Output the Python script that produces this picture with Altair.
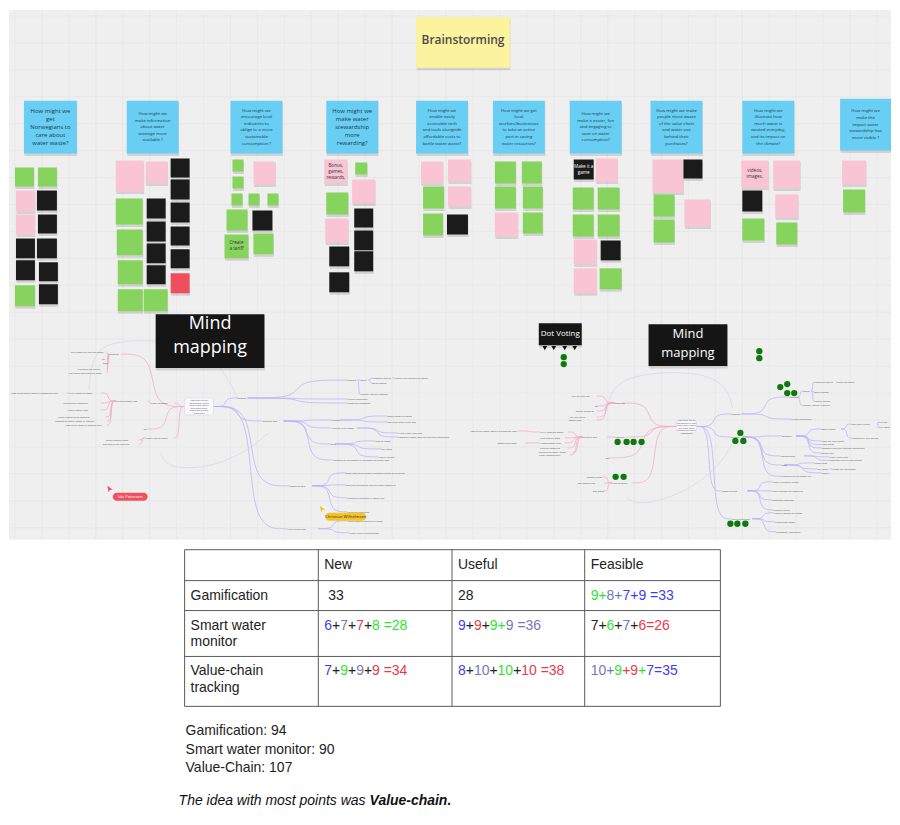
import altair as alt
import pandas as pd

# =====================================================================
# DATA  (board coordinates, image pixels)
# =====================================================================

# ---- brainstorming board ------------------------------------------------
title_text = "Brainstorming"
title_note = (416, 15, 510, 66)

question_lines = [
    ["How might we", "get", "Norwegians to", "care about", "water waste?"],
    ["How might we", "make information", "about water", "wastage more", "available ?"],
    ["How might we", "encourage local", "industries to", "oblige to a more", "sustainable", "consumption ?"],
    ["How might we", "make water", "stewardship", "more", "rewarding?"],
    ["How might we", "enable easily", "accessible tech", "and tools alongside", "affordable costs to", "battle water waste?"],
    ["How might we get", "local", "workers/businesses", "to take an active", "part in saving", "water resources?"],
    ["How might we", "make it easier, fun", "and engaging to", "save on water", "consumption?"],
    ["How might we make", "people more aware", "of the value chain", "and water use", "behind their", "purchases?"],
    ["How might we", "illustrate how", "much water is", "wasted everyday,", "and its impact on", "the climate?"],
    ["How might we", "make the", "impact water", "stewardship has", "more visible ?"],
]
question_left = [23, 126, 230, 326, 416, 493, 570, 651, 743, 841]
question_right = [76, 178, 282, 378, 468, 545, 622, 703, 795, 892]
question_top = [99, 99, 99, 99, 99, 99, 99, 99, 99, 97]
question_bottom = [152, 152, 152, 152, 152, 152, 152, 152, 152, 149]
question_style = ["large", "small", "small", "large", "small", "small", "small", "small", "small", "small"]

# sticky notes under each question: (left, top, right, bottom, colour)
notes_col1 = [(14, 166, 33, 185, "green"), (37, 166, 56, 185, "green"), (15, 189, 34, 210, "pink"),
              (36, 189, 56, 209, "black"), (15, 213, 34, 233, "pink"), (37, 213, 56, 232, "black"),
              (15, 237, 34, 257, "black"), (36, 237, 56, 257, "black"), (15, 259, 34, 279, "black"),
              (38, 261, 57, 280, "black"), (14, 284, 34, 305, "green"), (38, 283, 57, 303, "black")]
notes_col2 = [(115, 159, 143, 190, "pink"), (145, 160, 167, 182, "pink"), (170, 157, 189, 176, "black"),
              (170, 178, 189, 198, "black"), (115, 197, 142, 223, "green"), (146, 197, 165, 217, "black"),
              (170, 201, 189, 221, "black"), (116, 228, 142, 254, "green"), (146, 220, 165, 240, "black"),
              (170, 225, 189, 244, "black"), (146, 242, 165, 262, "black"), (170, 248, 189, 267, "black"),
              (117, 259, 142, 283, "green"), (146, 264, 165, 283, "black"), (170, 272, 189, 292, "red"),
              (117, 288, 142, 310, "green"), (143, 288, 167, 310, "green")]
notes_col3 = [(232, 158, 243, 170, "green"), (253, 160, 275, 183, "pink"), (232, 175, 243, 187, "green"),
              (231, 192, 242, 204, "green"), (248, 192, 259, 204, "green"), (267, 192, 278, 204, "green"),
              (226, 208, 247, 229, "green"), (252, 209, 272, 229, "black"), (224, 233, 248, 257, "green"),
              (253, 232, 273, 253, "green")]
notes_col4 = [(324, 158, 347, 182, "pink"), (355, 161, 367, 173, "green"), (352, 178, 375, 202, "pink"),
              (326, 191, 348, 213, "green"), (354, 207, 373, 226, "black"), (325, 217, 348, 241, "pink"),
              (354, 229, 373, 249, "black"), (329, 245, 349, 265, "black"), (354, 250, 373, 270, "black"),
              (329, 271, 349, 291, "black")]
notes_col5 = [(421, 160, 443, 182, "pink"), (448, 158, 471, 180, "pink"), (423, 185, 444, 207, "green"),
              (448, 185, 471, 205, "pink"), (423, 212, 443, 234, "green"), (447, 213, 468, 233, "black")]
notes_col6 = [(495, 160, 516, 182, "green"), (522, 160, 542, 182, "green"), (495, 185, 516, 207, "green"),
              (523, 185, 543, 207, "green"), (495, 211, 518, 235, "pink"), (523, 211, 543, 232, "green")]
notes_col7 = [(574, 158, 594, 178, "black"), (596, 157, 618, 180, "pink"), (573, 186, 594, 208, "green"),
              (598, 186, 620, 208, "green"), (573, 213, 594, 235, "green"), (598, 213, 620, 235, "green"),
              (574, 238, 597, 263, "pink"), (601, 239, 621, 259, "black"), (574, 267, 597, 292, "pink"),
              (600, 267, 622, 288, "green")]
notes_col8 = [(653, 158, 684, 191, "pink"), (684, 158, 703, 177, "black"), (654, 193, 675, 215, "green"),
              (685, 198, 711, 225, "pink"), (654, 218, 675, 241, "green")]
notes_col9 = [(742, 159, 769, 186, "pink"), (774, 159, 801, 187, "pink"), (743, 189, 763, 210, "black"),
              (776, 193, 799, 216, "pink"), (743, 217, 765, 239, "green"), (777, 221, 798, 243, "green")]
notes_col10 = [(843, 159, 867, 183, "pink"), (844, 188, 866, 211, "green")]
note_columns = [notes_col1, notes_col2, notes_col3, notes_col4, notes_col5,
                notes_col6, notes_col7, notes_col8, notes_col9, notes_col10]

# readable words on some notes: (column index, note index, lines)
note_words = [(6, 0, ["Make it a", "game"]),
              (8, 0, ["videos,", "images,"]),
              (3, 0, ["Bonus,", "games,", "rewards,"]),
              (2, 8, ["Create", "a tariff"])]

# ---- mind-map boards ----------------------------------------------------
heading_boxes = [("Mind\nmapping", 155, 313, 264, 367, "big"),
                 ("Mind\nmapping", 649, 323, 728, 365, "mid"),
                 ("Dot Voting", 539, 322, 582, 344, "small")]
dot_voting_pins_x = [545, 554, 565, 575]
dot_voting_pins_y = [347, 347, 347, 347]

vote_dots_x = [564, 564, 760, 760, 781, 788, 788, 795, 618, 627, 634, 642, 741, 736, 744, 616, 624, 731, 738, 746]
vote_dots_y = [356, 363, 350, 357, 386, 383, 392, 392, 441, 441, 441, 441, 432, 440, 440, 476, 476, 523, 523, 523]

center_text = "How might we get\nNorwegians to care\nabout water waste\nand make water\nstewardship more\nrewarding?"
center_nodes = {
    "A0": (184, 397, 213, 414, center_text),
    "C0": (677, 419, 697, 432, center_text),
}

# (id, parent, left, right, y, label)
left_map_nodes = [
    ("A1", "A0", 108, 120, 353, "Rewards"),
    ("A1a", "A1", 70, 105, 351, "Pay people to use less water"),
    ("A1b", "A1", 101, 106, 358, "To"),
    ("A1c", "A1", 102, 108, 362, "data"),
    ("A1d", "A1", 77, 106, 368, "Discount for saving"),
    ("A1e", "A1", 68, 106, 372, "Tax those who use the most"),
    ("A2", "A0", 150, 173, 402, "Water wastage"),
    ("A2a", "A2", 115, 147, 400, "Reliable water info"),
    ("A2a1", "A2a", 68, 100, 392, "WWF: facts on water"),
    ("A2a1x", "A2a1", 10, 66, 392, "How much water does a Norwegian use?"),
    ("A2a2", "A2a", 62, 100, 402, "Municipality statistics"),
    ("A2a3", "A2a", 66, 100, 409, "Hidden water cost"),
    ("A2a4", "A2a", 57, 105, 416, "Water footprint of products"),
    ("A2a5", "A2a", 54, 106, 420, "Reports on water waste in Norway"),
    ("A2a6", "A2a", 64, 106, 424, "How much water is wasted daily"),
    ("A3", "A0", 143, 147, 428, "tbc"),
    ("A4", "A0", 145, 173, 437, "Water use at home"),
    ("A4a", "A4", 105, 138, 439, "Smart shower head"),
    ("A4b", "A4", 102, 138, 443, "Tap that turns itself off"),
    ("B1", "A0", 237, 247, 397, "Gaming"),
    ("B1a", "B1", 347, 357, 379, "Contest"),
    ("B1a1", "B1a", 360, 368, 379, "Social"),
    ("B1a1a", "B1a1", 372, 392, 377, "Compare scores"),
    ("B1a1a1", "B1a1a", 395, 435, 377, "Share your savings on social"),
    ("B1a1b", "B1a1", 372, 395, 382, "Earn badges"),
    ("B1a2", "B1a", 360, 393, 393, "Monthly saving rewards"),
    ("B1b", "B1", 347, 370, 398, "Friend challenges"),
    ("B1c", "B1", 347, 378, 402, "Points for discounts"),
    ("B2", "A0", 262, 283, 420, "Tracking app"),
    ("B2a", "B2", 332, 340, 419, "Sensor"),
    ("B2a1", "B2a", 387, 413, 415, "Smart meter at home"),
    ("B2a2", "B2a", 387, 423, 421, "Real time data in the app"),
    ("B2b", "B2", 330, 357, 427, "Alerts on high usage"),
    ("B2b1", "B2b", 398, 425, 432, "Warn if tap runs long"),
    ("B2b2", "B2b", 398, 455, 436, "Compare usage with the average household"),
    ("B2c", "B2", 330, 335, 443, "Data"),
    ("B2c1", "B2c", 375, 397, 440, "Map of usage"),
    ("B2c2", "B2c", 381, 395, 448, "Per room"),
    ("B2c3", "B2c", 378, 398, 456, "Weekly report"),
    ("B2d", "B2", 333, 402, 459, "Connect to the power bill to show the water cost"),
    ("B3", "A0", 289, 312, 485, "Footprint app"),
    ("B3a", "B3", 345, 412, 472, "Show how much water a product needs to be made"),
    ("B3b", "B3", 345, 413, 484, "Scan the barcode to see the water footprint"),
    ("B3c", "B3", 347, 395, 497, "Compare products by water use"),
    ("B3d", "B3", 347, 382, 511, "Labels on products"),
    ("B4", "A0", 287, 318, 528, "Value chain app"),
    ("B4a", "B4", 348, 390, 520, "Track where clothes are made"),
    ("B4b", "B4", 349, 381, 532, "Water used in production"),
]

right_map_nodes = [
    ("C1", "C0", 615, 622, 402, "Rewards"),
    ("C1a", "C1", 572, 597, 395, "Pay for less use"),
    ("C1b", "C1", 595, 597, 405, "To"),
    ("C1c", "C1", 576, 597, 410, "Saving discount"),
    ("C1d", "C1", 570, 597, 416, "Tax big users"),
    ("C1e", "C1", 569, 597, 419, "Lower fees"),
    ("C2", "C0", 615, 627, 436, "Wastage"),
    ("C2a", "C2", 583, 607, 436, "Reliable info"),
    ("C2a1", "C2a", 540, 568, 431, "WWF: facts on water"),
    ("C2a1x", "C2a1", 470, 518, 430, "How much water does a Norwegian use?"),
    ("C2a2", "C2a", 540, 565, 437, "Municipality stats"),
    ("C2a3", "C2a", 540, 565, 442, "Hidden water cost"),
    ("C2a3x", "C2a3", 497, 525, 442, "Footprint of food"),
    ("C2a4", "C2a", 540, 568, 447, "Product footprint"),
    ("C2a5", "C2a", 539, 573, 451, "Reports on water waste"),
    ("C2a6", "C2a", 539, 570, 454, "Water wasted daily"),
    ("C3", "C0", 606, 609, 457, "tbc"),
    ("C4", "C0", 613, 633, 482, "Use at home"),
    ("C4a", "C4", 587, 603, 476, "Shower head"),
    ("C4b", "C4", 578, 605, 482, "Self-closing tap"),
    ("C4c", "C4", 593, 604, 490, "Eco mode"),
    ("D1", "C0", 732, 742, 413, "Gaming"),
    ("D1a", "D1", 790, 798, 396, "Contest"),
    ("D1a1", "D1a", 804, 812, 390, "Social"),
    ("D1a1a", "D1a1", 815, 837, 381, "Compare scores"),
    ("D1a1a1", "D1a1a", 838, 862, 381, "Share on social"),
    ("D1a1b", "D1a1", 815, 833, 391, "Earn badges"),
    ("D1a1c", "D1a1", 815, 835, 400, "Levels, points"),
    ("D1a2", "D1a", 803, 838, 404, "Monthly saving rewards"),
    ("D1b", "D1", 792, 815, 418, "Friend challenges"),
    ("D2", "C0", 732, 743, 436, "Tracker"),
    ("D2a", "D2", 783, 797, 435, "Sensors"),
    ("D2a1", "D2a", 822, 842, 428, "Smart meter"),
    ("D2a1a", "D2a1", 852, 878, 423, "Real time in app"),
    ("D2a1a1", "D2a1a", 880, 890, 421, "Per tap"),
    ("D2a1a2", "D2a1a", 880, 892, 426, "Per room"),
    ("D2a1b", "D2a1", 853, 890, 437, "Installed by the council"),
    ("D2a2", "D2a", 822, 848, 440, "Warn on high usage"),
    ("D2a3", "D2a", 822, 837, 443.5, "Push alerts"),
    ("D2a4", "D2a", 822, 870, 447, "Compare with the average household"),
    ("D2a5", "D2a", 822, 842, 452, "Saving tips"),
    ("D2b", "D2", 781, 805, 455, "Notifications"),
    ("D2b1", "D2b", 830, 858, 456, "Warn if tap runs"),
    ("D2b2", "D2b", 830, 873, 459.5, "Reminder to turn off shower"),
    ("D2c", "D2", 782, 785, 464, "Data"),
    ("D2c1", "D2c", 815, 833, 462, "Usage map"),
    ("D2c2", "D2c", 818, 830, 468, "Per room"),
    ("D2c2a", "D2c2", 833, 862, 468, "Usage per appliance"),
    ("D2c3", "D2c", 822, 835, 472, "Weekly"),
    ("D2d", "D2", 783, 833, 475.5, "Connect to the power bill"),
    ("D3", "C0", 722, 748, 490, "Footprint app"),
    ("D3a", "D3", 773, 820, 481, "Water a product needs"),
    ("D3b", "D3", 773, 822, 490, "Scan barcode for footprint"),
    ("D3c", "D3", 773, 808, 499, "Compare products"),
    ("D3d", "D3", 774, 802, 509, "Product labels"),
    ("D4", "C0", 732, 753, 518, "Value chain app"),
    ("D4a", "D4", 775, 807, 512, "Where clothes are made"),
    ("D4b", "D4", 776, 798, 521, "Production water"),
    ("D4c", "D4", 777, 805, 531, "Transport, packaging"),
]

# faint free-hand connectors on the mind maps (point lists)
faint_paths = [
    [(88, 388), (92, 352), (112, 340), (160, 338), (215, 352), (237, 397)],
    [(160, 452), (166, 467), (205, 468), (245, 452), (268, 432)],
    [(607, 410), (612, 385), (640, 372), (700, 370), (728, 385), (733, 407)],
    [(627, 497), (642, 506), (690, 490), (720, 465), (733, 443)],
]

# collaborator cursors: (name, pill left, top, right, bottom, arrow x, arrow y, colour)
cursors = [("Ida Petersen", 112, 492, 147, 500, 109, 488, "red"),
           ("Christian Wilhelmsen", 325, 512, 366, 520, 322, 508, "yellow")]

# ---- score table --------------------------------------------------------
table_columns = ["", "New", "Useful", "Feasible"]
table_rows = [["Gamification"], ["Smart water", "monitor"], ["Value-chain", "tracking"]]
# cell contents as (text, colour) pieces
gamification_cells = [[(" 33", "k")], [("28", "k")],
                      [("9+", "g"), ("8+", "v"), ("7+9 =33", "b")]]
smart_water_cells = [[("6", "b"), ("+", "k"), ("7", "v"), ("+", "k"), ("7", "r"), ("+", "k"), ("8 =28", "g")],
                     [("9", "b"), ("+", "k"), ("9", "r"), ("+", "k"), ("9+", "g"), ("9 =36", "v")],
                     [("7+", "k"), ("6", "g"), ("+", "k"), ("7", "v"), ("+", "k"), ("6=26", "r")]]
value_chain_cells = [[("7", "b"), ("+", "k"), ("9", "g"), ("+", "k"), ("9", "v"), ("+", "k"), ("9 =34", "r")],
                     [("8", "b"), ("+", "k"), ("10", "v"), ("+", "k"), ("10", "g"), ("+", "k"), ("10 =38", "r")],
                     [("10+", "v"), ("9", "g"), ("+9", "r"), ("+", "g"), ("7=35", "b")]]
score_cells = [gamification_cells, smart_water_cells, value_chain_cells]

totals = ["Gamification: 94", "Smart water monitor: 90", "Value-Chain: 107"]
conclusion = ("The idea with most points was ", "Value-chain.")

# =====================================================================
# STYLE / LAYOUT
# =====================================================================
NOTE_FILL = {"green": "#86d35d", "pink": "#f9c5d4", "black": "#1b1b1b", "red": "#ef4f5c",
             "blue": "#68cef3", "yellow": "#fbf39e"}
TEXT_FILL = {"k": "#222222", "b": "#3e3ef0", "g": "#2fe42f", "v": "#7676bb", "r": "#ee3749"}
CURSOR_FILL = {"red": "#f0505f", "yellow": "#f6c42a"}
CURSOR_TEXT = {"red": "#ffffff", "yellow": "#333333"}
HEAD_FONT = {"big": (18, 24, -5), "mid": (13, 19, -2), "small": (8, 9, 0)}   # size, line height, nudge
Q_FONT = {"large": (6.0, 8.2), "small": (4.3, 6.6)}
WORD_FONT = (4.6, 6.0)
CENTER_FONT = (2.2, 2.6)

W = 884
TOP_H, BOT_H = 531, 278
XS = alt.Scale(domain=[8, 892], nice=False, zero=False)
YT = alt.Scale(domain=[8, 539], nice=False, zero=False, reverse=True)
YB = alt.Scale(domain=[539, 817], nice=False, zero=False, reverse=True)
BOARD_FONT = "Open Sans"
DOC_FONT = "Liberation Sans"


def X(f):
    return alt.X(f, type="quantitative", scale=XS, axis=None)


def Y(f, s):
    return alt.Y(f, type="quantitative", scale=s, axis=None)


def block_top(cy, text, line_height):
    """y of the first line so that a multi-line block is centred on cy."""
    n = text.count("\n") + 1
    return cy - (n - 1) * line_height / 2


# =====================================================================
# TOP: whiteboard
# =====================================================================
top_layers = []

grid_v = pd.DataFrame({"x": list(range(14, 892, 27))})
grid_h = pd.DataFrame({"y": list(range(14, 539, 27))})
top_layers.append(alt.Chart(grid_v).mark_rule(color="#e5e5e5", strokeWidth=0.7).encode(x=X("x")))
top_layers.append(alt.Chart(grid_h).mark_rule(color="#e5e5e5", strokeWidth=0.7).encode(y=Y("y", YT)))

# --- mind map connectors
all_nodes = {n[0]: n for n in left_map_nodes + right_map_nodes}


def node_span(nid):
    if nid in center_nodes:
        x0, y0, x1, y1, _ = center_nodes[nid]
        return x0, x1, (y0 + y1) / 2
    _, _, x0, x1, y, _ = all_nodes[nid]
    return x0, x1, y


def root_of(nid):
    while nid not in center_nodes:
        nid = all_nodes[nid][1]
    return nid


edge_rows = []
for nid, parent, x0, x1, y, _ in left_map_nodes + right_map_nodes:
    px0, px1, py = node_span(parent)
    if x0 >= px1 - 2:
        sx, ex = px1, x0
    else:
        sx, ex = px0, x1
    rx0 = center_nodes[root_of(nid)][0]
    col = "#f3a6c4" if x1 <= rx0 else "#b6affa"
    mx = (sx + ex) / 2
    for o, (px, pyy) in enumerate([(sx, py), (mx, py), (mx, y), (ex, y)]):
        edge_rows.append({"e": nid, "o": o, "x": px, "y": pyy, "c": col})
edges_df = pd.DataFrame(edge_rows)

faint_rows = []
for i, path in enumerate(faint_paths):
    for o, (px, py) in enumerate(path):
        faint_rows.append({"e": i, "o": o, "x": px, "y": py})
faint_df = pd.DataFrame(faint_rows)

top_layers.append(alt.Chart(faint_df).mark_line(interpolate="basis", color="#dcd6e8", strokeWidth=0.8, clip=True)
                  .encode(x=X("x"), y=Y("y", YT), detail="e:N", order="o:Q"))
top_layers.append(alt.Chart(edges_df).mark_line(interpolate="basis", strokeWidth=0.7, clip=True)
                  .encode(x=X("x"), y=Y("y", YT), detail="e:N", order="o:Q",
                          color=alt.Color("c:N", scale=None)))

label_df = pd.DataFrame([{"x": n[2], "y": n[4], "t": n[5]} for n in left_map_nodes + right_map_nodes])
top_layers.append(alt.Chart(label_df).mark_text(font=BOARD_FONT, fontSize=2.5, align="left", baseline="middle",
                                                color="#555555", clip=True)
                  .encode(x=X("x"), y=Y("y", YT), text="t:N"))

center_df = pd.DataFrame([{"x0": v[0], "y0": v[1], "x1": v[2], "y1": v[3], "cx": (v[0] + v[2]) / 2,
                           "cy": block_top((v[1] + v[3]) / 2, v[4], CENTER_FONT[1]), "t": v[4]}
                          for v in center_nodes.values()])
top_layers.append(alt.Chart(center_df).mark_rect(fill="#f9f9fc", stroke="#d9d9e6", strokeWidth=0.6,
                                                 cornerRadius=3, clip=True)
                  .encode(x=X("x0"), x2="x1", y=Y("y0", YT), y2="y1"))
top_layers.append(alt.Chart(center_df).mark_text(font=BOARD_FONT, fontSize=CENTER_FONT[0],
                                                 lineHeight=CENTER_FONT[1], lineBreak="\n",
                                                 align="center", baseline="middle", color="#555555", clip=True)
                  .encode(x=X("cx"), y=Y("cy", YT), text="t:N"))

# --- sticky notes
note_rows = []
for col in note_columns:
    for (l, t, r, b, c) in col:
        note_rows.append({"x0": l, "y0": t, "x1": r, "y1": b, "f": NOTE_FILL[c]})
for i in range(len(question_left)):
    note_rows.append({"x0": question_left[i], "y0": question_top[i], "x1": question_right[i],
                      "y1": question_bottom[i], "f": NOTE_FILL["blue"]})
note_rows.append({"x0": title_note[0], "y0": title_note[1], "x1": title_note[2], "y1": title_note[3],
                  "f": NOTE_FILL["yellow"]})
for (_, l, t, r, b, _) in heading_boxes:
    note_rows.append({"x0": l, "y0": t, "x1": r, "y1": b, "f": "#151515"})
notes_df = pd.DataFrame(note_rows)

top_layers.append(alt.Chart(notes_df).mark_rect(color="#000000", opacity=0.12, yOffset=1.5, y2Offset=2.5,
                                                xOffset=0.5, x2Offset=0.5, clip=True)
                  .encode(x=X("x0"), x2="x1", y=Y("y0", YT), y2="y1"))
top_layers.append(alt.Chart(notes_df).mark_rect(clip=True)
                  .encode(x=X("x0"), x2="x1", y=Y("y0", YT), y2="y1", color=alt.Color("f:N", scale=None)))

# question texts
for style, (fs, lh) in Q_FONT.items():
    rows = []
    for i in range(len(question_lines)):
        if question_style[i] != style:
            continue
        t = "\n".join(question_lines[i])
        rows.append({"cx": (question_left[i] + question_right[i]) / 2,
                     "cy": block_top((question_top[i] + question_bottom[i]) / 2, t, lh), "t": t})
    top_layers.append(alt.Chart(pd.DataFrame(rows)).mark_text(font=BOARD_FONT, fontSize=fs, lineHeight=lh,
                                                              lineBreak="\n", align="center", baseline="middle",
                                                              color="#1e3846", clip=True)
                      .encode(x=X("cx"), y=Y("cy", YT), text="t:N"))

# words on small notes
word_rows = []
for ci, ni, lines in note_words:
    l, t, r, b, c = note_columns[ci][ni]
    txt = "\n".join(lines)
    word_rows.append({"cx": (l + r) / 2, "cy": block_top((t + b) / 2, txt, WORD_FONT[1]), "t": txt,
                      "c": "#ffffff" if c == "black" else "#333333"})
top_layers.append(alt.Chart(pd.DataFrame(word_rows)).mark_text(font=BOARD_FONT, fontSize=WORD_FONT[0],
                                                               lineHeight=WORD_FONT[1], lineBreak="\n",
                                                               align="center", baseline="middle", clip=True)
                  .encode(x=X("cx"), y=Y("cy", YT), text="t:N", color=alt.Color("c:N", scale=None)))

# title note text
top_layers.append(alt.Chart(pd.DataFrame([{"cx": (title_note[0] + title_note[2]) / 2,
                                           "cy": (title_note[1] + title_note[3]) / 2 - 2, "t": title_text}]))
                  .mark_text(font=BOARD_FONT, fontSize=12, fontWeight=600, color="#4b4b4b", clip=True)
                  .encode(x=X("cx"), y=Y("cy", YT), text="t:N"))

# heading boxes text
for key, (fs, lh, nudge) in HEAD_FONT.items():
    rows = [{"cx": (l + r) / 2, "cy": block_top((t + b) / 2, txt, lh) + nudge, "t": txt}
            for (txt, l, t, r, b, k) in heading_boxes if k == key]
    top_layers.append(alt.Chart(pd.DataFrame(rows)).mark_text(font=BOARD_FONT, fontSize=fs, lineHeight=lh,
                                                              lineBreak="\n", align="center", baseline="middle",
                                                              color="#ffffff", clip=True)
                      .encode(x=X("cx"), y=Y("cy", YT), text="t:N"))

# dot voting pins and vote dots
pins_df = pd.DataFrame({"x": dot_voting_pins_x, "y": dot_voting_pins_y})
top_layers.append(alt.Chart(pins_df).mark_point(shape="triangle-down", filled=True, size=22, color="#111111",
                                                opacity=1, clip=True)
                  .encode(x=X("x"), y=Y("y", YT)))
dots_df = pd.DataFrame({"x": vote_dots_x, "y": vote_dots_y})
top_layers.append(alt.Chart(dots_df).mark_circle(size=40, color="#0c7a0c", opacity=1, clip=True)
                  .encode(x=X("x"), y=Y("y", YT)))

# collaborator cursors
cur_df = pd.DataFrame([{"t": n, "x0": l, "y0": t, "x1": r, "y1": b, "cx": (l + r) / 2, "cy": (t + b) / 2,
                        "ax": ax, "ay": ay, "f": CURSOR_FILL[c], "tc": CURSOR_TEXT[c]}
                       for (n, l, t, r, b, ax, ay, c) in cursors])
top_layers.append(alt.Chart(cur_df).mark_rect(cornerRadius=4, clip=True)
                  .encode(x=X("x0"), x2="x1", y=Y("y0", YT), y2="y1", color=alt.Color("f:N", scale=None)))
top_layers.append(alt.Chart(cur_df).mark_text(font=BOARD_FONT, fontSize=4.2, align="center", baseline="middle",
                                              clip=True)
                  .encode(x=X("cx"), y=Y("cy", YT), text="t:N", color=alt.Color("tc:N", scale=None)))
top_layers.append(alt.Chart(cur_df).mark_point(shape="M-0.8,-1L0.9,0.25L0.05,0.35L-0.35,1.1Z", filled=True,
                                               size=40, opacity=1, clip=True)
                  .encode(x=X("ax"), y=Y("ay", YT), color=alt.Color("f:N", scale=None)))

top = alt.layer(*top_layers).properties(width=W, height=TOP_H,
                                        view=alt.ViewBackground(fill="#efefef", stroke=None))

# =====================================================================
# BOTTOM: score table and conclusion
# =====================================================================
ARIAL = {c: 556 for c in "0123456789abdeghnopqu"}
ARIAL.update({"+": 584, "=": 584, " ": 278, "c": 500, "k": 500, "s": 500, "v": 500, "x": 500, "y": 500,
              "z": 500, "f": 278, "t": 278, "i": 222, "j": 222, "l": 222, "m": 833, "r": 333, "w": 722,
              "T": 611, "-": 333, ".": 278, ":": 278})


def text_width(s, fs):
    return sum(ARIAL.get(ch, 556) for ch in s) * fs / 1000


FS = 14
col_edges = [184, 318, 452, 585, 721]
row_edges = [548, 579, 609, 655, 705]
PAD_X, FIRST_LINE, LINE_GAP = 6, 15, 17

rule_v = pd.DataFrame({"x": col_edges, "y0": [row_edges[0]] * len(col_edges),
                       "y1": [row_edges[-1]] * len(col_edges)})
rule_h = pd.DataFrame({"y": row_edges, "x0": [col_edges[0]] * len(row_edges),
                       "x1": [col_edges[-1]] * len(row_edges)})
bot_layers = [
    alt.Chart(rule_v).mark_rule(color="#5a5a5a", strokeWidth=1).encode(x=X("x"), y=Y("y0", YB), y2="y1"),
    alt.Chart(rule_h).mark_rule(color="#5a5a5a", strokeWidth=1).encode(y=Y("y", YB), x=X("x0"), x2="x1"),
]

text_rows = []
for ci, name in enumerate(table_columns):
    if name:
        text_rows.append({"x": col_edges[ci] + PAD_X, "y": row_edges[0] + FIRST_LINE, "t": name, "c": TEXT_FILL["k"]})
for ri, lines in enumerate(table_rows):
    for li, line in enumerate(lines):
        text_rows.append({"x": col_edges[0] + PAD_X, "y": row_edges[ri + 1] + FIRST_LINE + li * LINE_GAP,
                          "t": line, "c": TEXT_FILL["k"]})
for ri, row in enumerate(score_cells):
    for ci, pieces in enumerate(row):
        x = col_edges[ci + 1] + PAD_X
        y = row_edges[ri + 1] + FIRST_LINE
        for txt, ck in pieces:
            lead = len(txt) - len(txt.lstrip(" "))
            x += text_width(" " * lead, FS)
            core = txt.lstrip(" ")
            text_rows.append({"x": x, "y": y, "t": core, "c": TEXT_FILL[ck]})
            x += text_width(core, FS)
for i, line in enumerate(totals):
    text_rows.append({"x": 185, "y": 730 + i * 18.5, "t": line, "c": "#222222"})
text_df = pd.DataFrame(text_rows)

bot_layers.append(alt.Chart(text_df).mark_text(font=DOC_FONT, fontSize=FS, align="left", baseline="middle")
                  .encode(x=X("x"), y=Y("y", YB), text="t:N", color=alt.Color("c:N", scale=None)))

concl_x = 178
concl_df1 = pd.DataFrame([{"x": concl_x, "y": 800, "t": conclusion[0]}])
concl_df2 = pd.DataFrame([{"x": concl_x + text_width(conclusion[0], FS), "y": 800, "t": conclusion[1]}])
bot_layers.append(alt.Chart(concl_df1).mark_text(font=DOC_FONT, fontSize=FS, fontStyle="italic", align="left",
                                                 baseline="middle", color="#111111")
                  .encode(x=X("x"), y=Y("y", YB), text="t:N"))
bot_layers.append(alt.Chart(concl_df2).mark_text(font=DOC_FONT, fontSize=FS, fontStyle="italic", fontWeight="bold",
                                                 align="left", baseline="middle", color="#111111")
                  .encode(x=X("x"), y=Y("y", YB), text="t:N"))

bottom = alt.layer(*bot_layers).properties(width=W, height=BOT_H,
                                           view=alt.ViewBackground(fill="#ffffff", stroke=None))

chart = (alt.vconcat(top, bottom, spacing=0)
         .properties(padding=0, background="#ffffff")
         .configure_view(stroke=None))

chart.save("out.html", embed_options={"renderer": "svg", "actions": False})
